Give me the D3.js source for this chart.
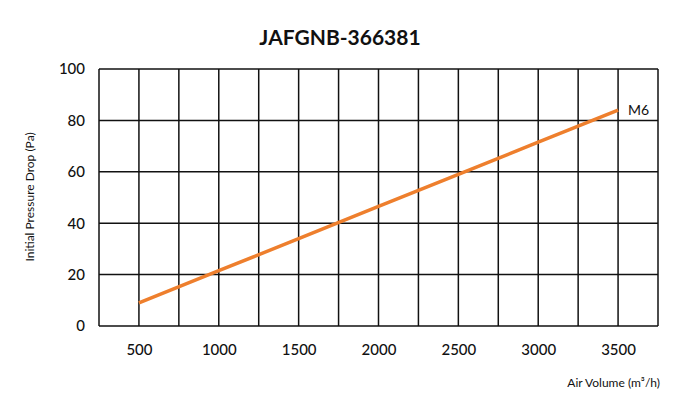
<!DOCTYPE html><html><head><meta charset="utf-8"><script src="https://cdn.jsdelivr.net/npm/d3@7"></script>
<style>body{margin:0;background:#fff}text{font-family:Lato,"Open Sans",sans-serif}</style></head><body><svg id="c" width="680" height="408"></svg>
<script>
const xValues=[500,1000,1500,2000,2500,3000,3500];
const m6=[9,21.5,34,46.5,59,71.5,84];
const xTicks=[500,1000,1500,2000,2500,3000,3500];
const yTicks=[0,20,40,60,80,100];
const svg=d3.select("#c");
const L=99,R=658,T=69,B=326;
const x=d3.scaleLinear().domain([250,3750]).range([L,R]);
const y=d3.scaleLinear().domain([0,100]).range([B,T]);
const g=svg.append("g");
g.selectAll(".v").data(d3.range(250,3751,250)).join("line").attr("x1",d=>x(d)).attr("x2",d=>x(d)).attr("y1",T).attr("y2",B).attr("stroke","#111").attr("stroke-width",1.5);
g.selectAll(".h").data(d3.range(0,101,20)).join("line").attr("x1",L).attr("x2",R).attr("y1",d=>y(d)).attr("y2",d=>y(d)).attr("stroke","#111").attr("stroke-width",1.5);
const xa=svg.append("g").attr("transform",`translate(0,${B})`).call(d3.axisBottom(x).tickValues(xTicks).tickSize(0).tickPadding(18).tickFormat(d3.format("d")));
const ya=svg.append("g").attr("transform",`translate(${L},0)`).call(d3.axisLeft(y).tickValues(yTicks).tickSize(0).tickPadding(14));
[xa,ya].forEach(a=>{a.select(".domain").remove();a.selectAll("text").attr("font-size",15).attr("fill","#111").style("font-family","Lato,sans-serif").attr("font-weight",500);});
svg.append("path").datum(xValues.map((v,i)=>[v,m6[i]])).attr("d",d3.line().x(d=>x(d[0])).y(d=>y(d[1]))).attr("fill","none").attr("stroke","#ee7f2d").attr("stroke-width",3.5);
svg.append("text").attr("x",x(3500)+10).attr("y",y(84)+5).text("M6").attr("font-size",14).attr("fill","#111");
svg.append("text").attr("x",340).attr("y",45).attr("text-anchor","middle").attr("font-size",21).attr("font-weight",700).attr("fill","#111").text("JAFGNB-366381");
svg.append("text").attr("transform","translate(34,197) rotate(-90)").attr("text-anchor","middle").attr("font-size",12).attr("fill","#111").text("Initial Pressure Drop (Pa)");
svg.append("text").attr("x",660).attr("y",387).attr("text-anchor","end").attr("font-size",12).attr("fill","#111").text("Air Volume (m³/h)");
</script></body></html>
